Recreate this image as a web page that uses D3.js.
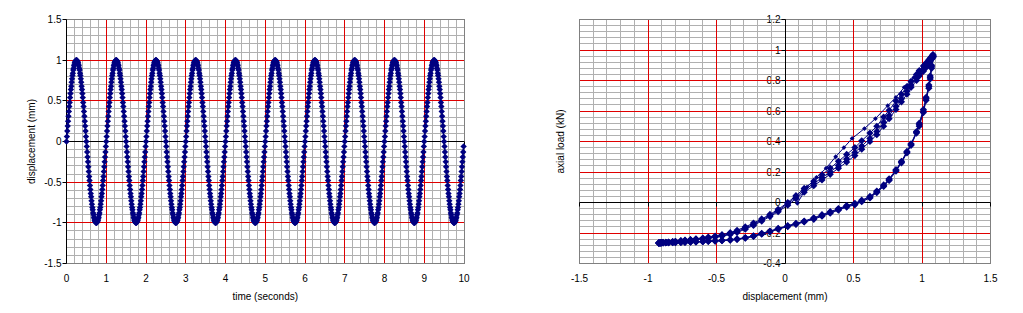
<!DOCTYPE html>
<html lang="en">
<head>
  <meta charset="UTF-8">
  <title>Displacement and load</title>
  <script src="https://d3js.org/d3.v7.min.js"></script>
  <style>
    body {
      margin: 0;
      background: #fff;
    }
    svg text {
      font-family: Arial, "Liberation Sans", sans-serif;
      font-size: 10px;
      fill: #000;
    }
  </style>
</head>
<body>
  <svg id="chart" width="1023" height="313"></svg>

  <script>
    // left chart: displacement (mm) against time (seconds), one reading every 0.01 s
    const time = [
      0, 0.01, 0.02, 0.03, 0.04, 0.05, 0.06, 0.07, 0.08, 0.09, 0.1, 0.11, 0.12, 0.13, 0.14, 0.15, 0.16, 0.17, 0.18, 0.19, 0.2, 0.21, 0.22, 0.23, 0.24, 0.25, 0.26, 0.27, 0.28, 0.29, 0.3, 0.31, 0.32, 0.33, 0.34, 0.35, 0.36, 0.37, 0.38, 0.39, 0.4, 0.41, 0.42, 0.43, 0.44, 0.45, 0.46, 0.47, 0.48, 0.49, 0.5, 0.51, 0.52, 0.53, 0.54, 0.55, 0.56, 0.57, 0.58, 0.59, 0.6, 0.61, 0.62, 0.63, 0.64, 0.65, 0.66, 0.67, 0.68, 0.69, 0.7, 0.71, 0.72, 0.73, 0.74, 0.75, 0.76, 0.77, 0.78, 0.79, 0.8, 0.81, 0.82, 0.83, 0.84, 0.85, 0.86, 0.87, 0.88, 0.89, 0.9, 0.91, 0.92, 0.93, 0.94, 0.95, 0.96, 0.97, 0.98, 0.99,
      1, 1.01, 1.02, 1.03, 1.04, 1.05, 1.06, 1.07, 1.08, 1.09, 1.1, 1.11, 1.12, 1.13, 1.14, 1.15, 1.16, 1.17, 1.18, 1.19, 1.2, 1.21, 1.22, 1.23, 1.24, 1.25, 1.26, 1.27, 1.28, 1.29, 1.3, 1.31, 1.32, 1.33, 1.34, 1.35, 1.36, 1.37, 1.38, 1.39, 1.4, 1.41, 1.42, 1.43, 1.44, 1.45, 1.46, 1.47, 1.48, 1.49, 1.5, 1.51, 1.52, 1.53, 1.54, 1.55, 1.56, 1.57, 1.58, 1.59, 1.6, 1.61, 1.62, 1.63, 1.64, 1.65, 1.66, 1.67, 1.68, 1.69, 1.7, 1.71, 1.72, 1.73, 1.74, 1.75, 1.76, 1.77, 1.78, 1.79, 1.8, 1.81, 1.82, 1.83, 1.84, 1.85, 1.86, 1.87, 1.88, 1.89, 1.9, 1.91, 1.92, 1.93, 1.94, 1.95, 1.96, 1.97, 1.98, 1.99,
      2, 2.01, 2.02, 2.03, 2.04, 2.05, 2.06, 2.07, 2.08, 2.09, 2.1, 2.11, 2.12, 2.13, 2.14, 2.15, 2.16, 2.17, 2.18, 2.19, 2.2, 2.21, 2.22, 2.23, 2.24, 2.25, 2.26, 2.27, 2.28, 2.29, 2.3, 2.31, 2.32, 2.33, 2.34, 2.35, 2.36, 2.37, 2.38, 2.39, 2.4, 2.41, 2.42, 2.43, 2.44, 2.45, 2.46, 2.47, 2.48, 2.49, 2.5, 2.51, 2.52, 2.53, 2.54, 2.55, 2.56, 2.57, 2.58, 2.59, 2.6, 2.61, 2.62, 2.63, 2.64, 2.65, 2.66, 2.67, 2.68, 2.69, 2.7, 2.71, 2.72, 2.73, 2.74, 2.75, 2.76, 2.77, 2.78, 2.79, 2.8, 2.81, 2.82, 2.83, 2.84, 2.85, 2.86, 2.87, 2.88, 2.89, 2.9, 2.91, 2.92, 2.93, 2.94, 2.95, 2.96, 2.97, 2.98, 2.99,
      3, 3.01, 3.02, 3.03, 3.04, 3.05, 3.06, 3.07, 3.08, 3.09, 3.1, 3.11, 3.12, 3.13, 3.14, 3.15, 3.16, 3.17, 3.18, 3.19, 3.2, 3.21, 3.22, 3.23, 3.24, 3.25, 3.26, 3.27, 3.28, 3.29, 3.3, 3.31, 3.32, 3.33, 3.34, 3.35, 3.36, 3.37, 3.38, 3.39, 3.4, 3.41, 3.42, 3.43, 3.44, 3.45, 3.46, 3.47, 3.48, 3.49, 3.5, 3.51, 3.52, 3.53, 3.54, 3.55, 3.56, 3.57, 3.58, 3.59, 3.6, 3.61, 3.62, 3.63, 3.64, 3.65, 3.66, 3.67, 3.68, 3.69, 3.7, 3.71, 3.72, 3.73, 3.74, 3.75, 3.76, 3.77, 3.78, 3.79, 3.8, 3.81, 3.82, 3.83, 3.84, 3.85, 3.86, 3.87, 3.88, 3.89, 3.9, 3.91, 3.92, 3.93, 3.94, 3.95, 3.96, 3.97, 3.98, 3.99,
      4, 4.01, 4.02, 4.03, 4.04, 4.05, 4.06, 4.07, 4.08, 4.09, 4.1, 4.11, 4.12, 4.13, 4.14, 4.15, 4.16, 4.17, 4.18, 4.19, 4.2, 4.21, 4.22, 4.23, 4.24, 4.25, 4.26, 4.27, 4.28, 4.29, 4.3, 4.31, 4.32, 4.33, 4.34, 4.35, 4.36, 4.37, 4.38, 4.39, 4.4, 4.41, 4.42, 4.43, 4.44, 4.45, 4.46, 4.47, 4.48, 4.49, 4.5, 4.51, 4.52, 4.53, 4.54, 4.55, 4.56, 4.57, 4.58, 4.59, 4.6, 4.61, 4.62, 4.63, 4.64, 4.65, 4.66, 4.67, 4.68, 4.69, 4.7, 4.71, 4.72, 4.73, 4.74, 4.75, 4.76, 4.77, 4.78, 4.79, 4.8, 4.81, 4.82, 4.83, 4.84, 4.85, 4.86, 4.87, 4.88, 4.89, 4.9, 4.91, 4.92, 4.93, 4.94, 4.95, 4.96, 4.97, 4.98, 4.99,
      5, 5.01, 5.02, 5.03, 5.04, 5.05, 5.06, 5.07, 5.08, 5.09, 5.1, 5.11, 5.12, 5.13, 5.14, 5.15, 5.16, 5.17, 5.18, 5.19, 5.2, 5.21, 5.22, 5.23, 5.24, 5.25, 5.26, 5.27, 5.28, 5.29, 5.3, 5.31, 5.32, 5.33, 5.34, 5.35, 5.36, 5.37, 5.38, 5.39, 5.4, 5.41, 5.42, 5.43, 5.44, 5.45, 5.46, 5.47, 5.48, 5.49, 5.5, 5.51, 5.52, 5.53, 5.54, 5.55, 5.56, 5.57, 5.58, 5.59, 5.6, 5.61, 5.62, 5.63, 5.64, 5.65, 5.66, 5.67, 5.68, 5.69, 5.7, 5.71, 5.72, 5.73, 5.74, 5.75, 5.76, 5.77, 5.78, 5.79, 5.8, 5.81, 5.82, 5.83, 5.84, 5.85, 5.86, 5.87, 5.88, 5.89, 5.9, 5.91, 5.92, 5.93, 5.94, 5.95, 5.96, 5.97, 5.98, 5.99,
      6, 6.01, 6.02, 6.03, 6.04, 6.05, 6.06, 6.07, 6.08, 6.09, 6.1, 6.11, 6.12, 6.13, 6.14, 6.15, 6.16, 6.17, 6.18, 6.19, 6.2, 6.21, 6.22, 6.23, 6.24, 6.25, 6.26, 6.27, 6.28, 6.29, 6.3, 6.31, 6.32, 6.33, 6.34, 6.35, 6.36, 6.37, 6.38, 6.39, 6.4, 6.41, 6.42, 6.43, 6.44, 6.45, 6.46, 6.47, 6.48, 6.49, 6.5, 6.51, 6.52, 6.53, 6.54, 6.55, 6.56, 6.57, 6.58, 6.59, 6.6, 6.61, 6.62, 6.63, 6.64, 6.65, 6.66, 6.67, 6.68, 6.69, 6.7, 6.71, 6.72, 6.73, 6.74, 6.75, 6.76, 6.77, 6.78, 6.79, 6.8, 6.81, 6.82, 6.83, 6.84, 6.85, 6.86, 6.87, 6.88, 6.89, 6.9, 6.91, 6.92, 6.93, 6.94, 6.95, 6.96, 6.97, 6.98, 6.99,
      7, 7.01, 7.02, 7.03, 7.04, 7.05, 7.06, 7.07, 7.08, 7.09, 7.1, 7.11, 7.12, 7.13, 7.14, 7.15, 7.16, 7.17, 7.18, 7.19, 7.2, 7.21, 7.22, 7.23, 7.24, 7.25, 7.26, 7.27, 7.28, 7.29, 7.3, 7.31, 7.32, 7.33, 7.34, 7.35, 7.36, 7.37, 7.38, 7.39, 7.4, 7.41, 7.42, 7.43, 7.44, 7.45, 7.46, 7.47, 7.48, 7.49, 7.5, 7.51, 7.52, 7.53, 7.54, 7.55, 7.56, 7.57, 7.58, 7.59, 7.6, 7.61, 7.62, 7.63, 7.64, 7.65, 7.66, 7.67, 7.68, 7.69, 7.7, 7.71, 7.72, 7.73, 7.74, 7.75, 7.76, 7.77, 7.78, 7.79, 7.8, 7.81, 7.82, 7.83, 7.84, 7.85, 7.86, 7.87, 7.88, 7.89, 7.9, 7.91, 7.92, 7.93, 7.94, 7.95, 7.96, 7.97, 7.98, 7.99,
      8, 8.01, 8.02, 8.03, 8.04, 8.05, 8.06, 8.07, 8.08, 8.09, 8.1, 8.11, 8.12, 8.13, 8.14, 8.15, 8.16, 8.17, 8.18, 8.19, 8.2, 8.21, 8.22, 8.23, 8.24, 8.25, 8.26, 8.27, 8.28, 8.29, 8.3, 8.31, 8.32, 8.33, 8.34, 8.35, 8.36, 8.37, 8.38, 8.39, 8.4, 8.41, 8.42, 8.43, 8.44, 8.45, 8.46, 8.47, 8.48, 8.49, 8.5, 8.51, 8.52, 8.53, 8.54, 8.55, 8.56, 8.57, 8.58, 8.59, 8.6, 8.61, 8.62, 8.63, 8.64, 8.65, 8.66, 8.67, 8.68, 8.69, 8.7, 8.71, 8.72, 8.73, 8.74, 8.75, 8.76, 8.77, 8.78, 8.79, 8.8, 8.81, 8.82, 8.83, 8.84, 8.85, 8.86, 8.87, 8.88, 8.89, 8.9, 8.91, 8.92, 8.93, 8.94, 8.95, 8.96, 8.97, 8.98, 8.99,
      9, 9.01, 9.02, 9.03, 9.04, 9.05, 9.06, 9.07, 9.08, 9.09, 9.1, 9.11, 9.12, 9.13, 9.14, 9.15, 9.16, 9.17, 9.18, 9.19, 9.2, 9.21, 9.22, 9.23, 9.24, 9.25, 9.26, 9.27, 9.28, 9.29, 9.3, 9.31, 9.32, 9.33, 9.34, 9.35, 9.36, 9.37, 9.38, 9.39, 9.4, 9.41, 9.42, 9.43, 9.44, 9.45, 9.46, 9.47, 9.48, 9.49, 9.5, 9.51, 9.52, 9.53, 9.54, 9.55, 9.56, 9.57, 9.58, 9.59, 9.6, 9.61, 9.62, 9.63, 9.64, 9.65, 9.66, 9.67, 9.68, 9.69, 9.7, 9.71, 9.72, 9.73, 9.74, 9.75, 9.76, 9.77, 9.78, 9.79, 9.8, 9.81, 9.82, 9.83, 9.84, 9.85, 9.86, 9.87, 9.88, 9.89, 9.9, 9.91, 9.92, 9.93, 9.94, 9.95, 9.96, 9.97, 9.98, 9.99
    ];
    const displacement = [
      0, 0.06, 0.13, 0.19, 0.25, 0.31, 0.37, 0.43, 0.48, 0.54, 0.59, 0.64, 0.68, 0.73, 0.77, 0.81, 0.84, 0.88, 0.9, 0.93, 0.95, 0.97, 0.98, 0.99, 1, 1, 1, 0.99, 0.98, 0.97, 0.95, 0.93, 0.9, 0.88, 0.84, 0.81, 0.77, 0.73, 0.68, 0.64, 0.59, 0.54, 0.48, 0.43, 0.37, 0.31, 0.25, 0.19, 0.13, 0.06, 0, -0.06, -0.13, -0.19, -0.25, -0.31, -0.37, -0.43, -0.48, -0.54, -0.59, -0.64, -0.68, -0.73, -0.77, -0.81, -0.84, -0.88, -0.9, -0.93, -0.95, -0.97, -0.98, -0.99, -1, -1, -1, -0.99, -0.98, -0.97, -0.95, -0.93, -0.9, -0.88, -0.84, -0.81, -0.77, -0.73, -0.68, -0.64, -0.59, -0.54, -0.48, -0.43, -0.37, -0.31, -0.25, -0.19, -0.13, -0.06,
      0, 0.06, 0.13, 0.19, 0.25, 0.31, 0.37, 0.43, 0.48, 0.54, 0.59, 0.64, 0.68, 0.73, 0.77, 0.81, 0.84, 0.88, 0.9, 0.93, 0.95, 0.97, 0.98, 0.99, 1, 1, 1, 0.99, 0.98, 0.97, 0.95, 0.93, 0.9, 0.88, 0.84, 0.81, 0.77, 0.73, 0.68, 0.64, 0.59, 0.54, 0.48, 0.43, 0.37, 0.31, 0.25, 0.19, 0.13, 0.06, 0, -0.06, -0.13, -0.19, -0.25, -0.31, -0.37, -0.43, -0.48, -0.54, -0.59, -0.64, -0.68, -0.73, -0.77, -0.81, -0.84, -0.88, -0.9, -0.93, -0.95, -0.97, -0.98, -0.99, -1, -1, -1, -0.99, -0.98, -0.97, -0.95, -0.93, -0.9, -0.88, -0.84, -0.81, -0.77, -0.73, -0.68, -0.64, -0.59, -0.54, -0.48, -0.43, -0.37, -0.31, -0.25, -0.19, -0.13, -0.06,
      0, 0.06, 0.13, 0.19, 0.25, 0.31, 0.37, 0.43, 0.48, 0.54, 0.59, 0.64, 0.68, 0.73, 0.77, 0.81, 0.84, 0.88, 0.9, 0.93, 0.95, 0.97, 0.98, 0.99, 1, 1, 1, 0.99, 0.98, 0.97, 0.95, 0.93, 0.9, 0.88, 0.84, 0.81, 0.77, 0.73, 0.68, 0.64, 0.59, 0.54, 0.48, 0.43, 0.37, 0.31, 0.25, 0.19, 0.13, 0.06, 0, -0.06, -0.13, -0.19, -0.25, -0.31, -0.37, -0.43, -0.48, -0.54, -0.59, -0.64, -0.68, -0.73, -0.77, -0.81, -0.84, -0.88, -0.9, -0.93, -0.95, -0.97, -0.98, -0.99, -1, -1, -1, -0.99, -0.98, -0.97, -0.95, -0.93, -0.9, -0.88, -0.84, -0.81, -0.77, -0.73, -0.68, -0.64, -0.59, -0.54, -0.48, -0.43, -0.37, -0.31, -0.25, -0.19, -0.13, -0.06,
      0, 0.06, 0.13, 0.19, 0.25, 0.31, 0.37, 0.43, 0.48, 0.54, 0.59, 0.64, 0.68, 0.73, 0.77, 0.81, 0.84, 0.88, 0.9, 0.93, 0.95, 0.97, 0.98, 0.99, 1, 1, 1, 0.99, 0.98, 0.97, 0.95, 0.93, 0.9, 0.88, 0.84, 0.81, 0.77, 0.73, 0.68, 0.64, 0.59, 0.54, 0.48, 0.43, 0.37, 0.31, 0.25, 0.19, 0.13, 0.06, 0, -0.06, -0.13, -0.19, -0.25, -0.31, -0.37, -0.43, -0.48, -0.54, -0.59, -0.64, -0.68, -0.73, -0.77, -0.81, -0.84, -0.88, -0.9, -0.93, -0.95, -0.97, -0.98, -0.99, -1, -1, -1, -0.99, -0.98, -0.97, -0.95, -0.93, -0.9, -0.88, -0.84, -0.81, -0.77, -0.73, -0.68, -0.64, -0.59, -0.54, -0.48, -0.43, -0.37, -0.31, -0.25, -0.19, -0.13, -0.06,
      0, 0.06, 0.13, 0.19, 0.25, 0.31, 0.37, 0.43, 0.48, 0.54, 0.59, 0.64, 0.68, 0.73, 0.77, 0.81, 0.84, 0.88, 0.9, 0.93, 0.95, 0.97, 0.98, 0.99, 1, 1, 1, 0.99, 0.98, 0.97, 0.95, 0.93, 0.9, 0.88, 0.84, 0.81, 0.77, 0.73, 0.68, 0.64, 0.59, 0.54, 0.48, 0.43, 0.37, 0.31, 0.25, 0.19, 0.13, 0.06, 0, -0.06, -0.13, -0.19, -0.25, -0.31, -0.37, -0.43, -0.48, -0.54, -0.59, -0.64, -0.68, -0.73, -0.77, -0.81, -0.84, -0.88, -0.9, -0.93, -0.95, -0.97, -0.98, -0.99, -1, -1, -1, -0.99, -0.98, -0.97, -0.95, -0.93, -0.9, -0.88, -0.84, -0.81, -0.77, -0.73, -0.68, -0.64, -0.59, -0.54, -0.48, -0.43, -0.37, -0.31, -0.25, -0.19, -0.13, -0.06,
      0, 0.06, 0.13, 0.19, 0.25, 0.31, 0.37, 0.43, 0.48, 0.54, 0.59, 0.64, 0.68, 0.73, 0.77, 0.81, 0.84, 0.88, 0.9, 0.93, 0.95, 0.97, 0.98, 0.99, 1, 1, 1, 0.99, 0.98, 0.97, 0.95, 0.93, 0.9, 0.88, 0.84, 0.81, 0.77, 0.73, 0.68, 0.64, 0.59, 0.54, 0.48, 0.43, 0.37, 0.31, 0.25, 0.19, 0.13, 0.06, 0, -0.06, -0.13, -0.19, -0.25, -0.31, -0.37, -0.43, -0.48, -0.54, -0.59, -0.64, -0.68, -0.73, -0.77, -0.81, -0.84, -0.88, -0.9, -0.93, -0.95, -0.97, -0.98, -0.99, -1, -1, -1, -0.99, -0.98, -0.97, -0.95, -0.93, -0.9, -0.88, -0.84, -0.81, -0.77, -0.73, -0.68, -0.64, -0.59, -0.54, -0.48, -0.43, -0.37, -0.31, -0.25, -0.19, -0.13, -0.06,
      0, 0.06, 0.13, 0.19, 0.25, 0.31, 0.37, 0.43, 0.48, 0.54, 0.59, 0.64, 0.68, 0.73, 0.77, 0.81, 0.84, 0.88, 0.9, 0.93, 0.95, 0.97, 0.98, 0.99, 1, 1, 1, 0.99, 0.98, 0.97, 0.95, 0.93, 0.9, 0.88, 0.84, 0.81, 0.77, 0.73, 0.68, 0.64, 0.59, 0.54, 0.48, 0.43, 0.37, 0.31, 0.25, 0.19, 0.13, 0.06, 0, -0.06, -0.13, -0.19, -0.25, -0.31, -0.37, -0.43, -0.48, -0.54, -0.59, -0.64, -0.68, -0.73, -0.77, -0.81, -0.84, -0.88, -0.9, -0.93, -0.95, -0.97, -0.98, -0.99, -1, -1, -1, -0.99, -0.98, -0.97, -0.95, -0.93, -0.9, -0.88, -0.84, -0.81, -0.77, -0.73, -0.68, -0.64, -0.59, -0.54, -0.48, -0.43, -0.37, -0.31, -0.25, -0.19, -0.13, -0.06,
      0, 0.06, 0.13, 0.19, 0.25, 0.31, 0.37, 0.43, 0.48, 0.54, 0.59, 0.64, 0.68, 0.73, 0.77, 0.81, 0.84, 0.88, 0.9, 0.93, 0.95, 0.97, 0.98, 0.99, 1, 1, 1, 0.99, 0.98, 0.97, 0.95, 0.93, 0.9, 0.88, 0.84, 0.81, 0.77, 0.73, 0.68, 0.64, 0.59, 0.54, 0.48, 0.43, 0.37, 0.31, 0.25, 0.19, 0.13, 0.06, 0, -0.06, -0.13, -0.19, -0.25, -0.31, -0.37, -0.43, -0.48, -0.54, -0.59, -0.64, -0.68, -0.73, -0.77, -0.81, -0.84, -0.88, -0.9, -0.93, -0.95, -0.97, -0.98, -0.99, -1, -1, -1, -0.99, -0.98, -0.97, -0.95, -0.93, -0.9, -0.88, -0.84, -0.81, -0.77, -0.73, -0.68, -0.64, -0.59, -0.54, -0.48, -0.43, -0.37, -0.31, -0.25, -0.19, -0.13, -0.06,
      0, 0.06, 0.13, 0.19, 0.25, 0.31, 0.37, 0.43, 0.48, 0.54, 0.59, 0.64, 0.68, 0.73, 0.77, 0.81, 0.84, 0.88, 0.9, 0.93, 0.95, 0.97, 0.98, 0.99, 1, 1, 1, 0.99, 0.98, 0.97, 0.95, 0.93, 0.9, 0.88, 0.84, 0.81, 0.77, 0.73, 0.68, 0.64, 0.59, 0.54, 0.48, 0.43, 0.37, 0.31, 0.25, 0.19, 0.13, 0.06, 0, -0.06, -0.13, -0.19, -0.25, -0.31, -0.37, -0.43, -0.48, -0.54, -0.59, -0.64, -0.68, -0.73, -0.77, -0.81, -0.84, -0.88, -0.9, -0.93, -0.95, -0.97, -0.98, -0.99, -1, -1, -1, -0.99, -0.98, -0.97, -0.95, -0.93, -0.9, -0.88, -0.84, -0.81, -0.77, -0.73, -0.68, -0.64, -0.59, -0.54, -0.48, -0.43, -0.37, -0.31, -0.25, -0.19, -0.13, -0.06,
      0, 0.06, 0.13, 0.19, 0.25, 0.31, 0.37, 0.43, 0.48, 0.54, 0.59, 0.64, 0.68, 0.73, 0.77, 0.81, 0.84, 0.88, 0.9, 0.93, 0.95, 0.97, 0.98, 0.99, 1, 1, 1, 0.99, 0.98, 0.97, 0.95, 0.93, 0.9, 0.88, 0.84, 0.81, 0.77, 0.73, 0.68, 0.64, 0.59, 0.54, 0.48, 0.43, 0.37, 0.31, 0.25, 0.19, 0.13, 0.06, 0, -0.06, -0.13, -0.19, -0.25, -0.31, -0.37, -0.43, -0.48, -0.54, -0.59, -0.64, -0.68, -0.73, -0.77, -0.81, -0.84, -0.88, -0.9, -0.93, -0.95, -0.97, -0.98, -0.99, -1, -1, -1, -0.99, -0.98, -0.97, -0.95, -0.93, -0.9, -0.88, -0.84, -0.81, -0.77, -0.73, -0.68, -0.64, -0.59, -0.54, -0.48, -0.43, -0.37, -0.31, -0.25, -0.19, -0.13, -0.06
    ];
    const timeTicks = [0, 1, 2, 3, 4, 5, 6, 7, 8, 9, 10];
    const dispTicks = [-1.5, -1, -0.5, 0, 0.5, 1, 1.5];

    // right chart: axial load (kN) against displacement (mm)
    // first loading, drawn with small markers
    const firstDisp = [0.09, 0.16, 0.23, 0.3, 0.37, 0.43, 0.49, 0.58, 0.66, 0.75, 0.81, 0.87, 0.94, 1.01, 1.05, 1.08];
    const firstLoad = [-0.005, 0.1, 0.165, 0.225, 0.3, 0.36, 0.42, 0.485, 0.55, 0.635, 0.69, 0.755, 0.82, 0.9, 0.945, 0.975];
    // repeated loops: unloading then reloading, three times
    const loopDisp = [
      1.08, 1.07, 1.06, 1.05, 1.03, 1.01, 0.98, 0.96, 0.92, 0.89, 0.85, 0.81, 0.76, 0.72, 0.67, 0.62, 0.56, 0.51, 0.45, 0.39, 0.33, 0.27, 0.21, 0.14, 0.08, 0.02, -0.05, -0.11, -0.17, -0.23, -0.29, -0.35, -0.4, -0.46, -0.51, -0.56, -0.6, -0.65, -0.69, -0.73, -0.76, -0.8, -0.82, -0.85, -0.87, -0.89, -0.9, -0.91, -0.92, -0.92,
      -0.92, -0.91, -0.9, -0.89, -0.87, -0.85, -0.82, -0.8, -0.76, -0.73, -0.69, -0.65, -0.6, -0.56, -0.51, -0.46, -0.4, -0.35, -0.29, -0.23, -0.17, -0.11, -0.05, 0.02, 0.08, 0.14, 0.21, 0.27, 0.33, 0.39, 0.45, 0.51, 0.56, 0.62, 0.67, 0.72, 0.76, 0.81, 0.85, 0.89, 0.92, 0.96, 0.98, 1.01, 1.03, 1.05, 1.06, 1.07, 1.08, 1.08,
      1.08, 1.07, 1.06, 1.05, 1.03, 1.01, 0.98, 0.96, 0.92, 0.89, 0.85, 0.81, 0.76, 0.72, 0.67, 0.62, 0.56, 0.51, 0.45, 0.39, 0.33, 0.27, 0.21, 0.14, 0.08, 0.02, -0.05, -0.11, -0.17, -0.23, -0.29, -0.35, -0.4, -0.46, -0.51, -0.56, -0.6, -0.65, -0.69, -0.73, -0.76, -0.8, -0.82, -0.85, -0.87, -0.89, -0.9, -0.91, -0.92, -0.92,
      -0.92, -0.91, -0.9, -0.89, -0.87, -0.85, -0.82, -0.8, -0.76, -0.73, -0.69, -0.65, -0.6, -0.56, -0.51, -0.46, -0.4, -0.35, -0.29, -0.23, -0.17, -0.11, -0.05, 0.02, 0.08, 0.14, 0.21, 0.27, 0.33, 0.39, 0.45, 0.51, 0.56, 0.62, 0.67, 0.72, 0.76, 0.81, 0.85, 0.89, 0.92, 0.96, 0.98, 1.01, 1.03, 1.05, 1.06, 1.07, 1.08, 1.08,
      1.08, 1.07, 1.06, 1.05, 1.03, 1.01, 0.98, 0.96, 0.92, 0.89, 0.85, 0.81, 0.76, 0.72, 0.67, 0.62, 0.56, 0.51, 0.45, 0.39, 0.33, 0.27, 0.21, 0.14, 0.08, 0.02, -0.05, -0.11, -0.17, -0.23, -0.29, -0.35, -0.4, -0.46, -0.51, -0.56, -0.6, -0.65, -0.69, -0.73, -0.76, -0.8, -0.82, -0.85, -0.87, -0.89, -0.9, -0.91, -0.92, -0.92,
      -0.92, -0.91, -0.9, -0.89, -0.87, -0.85, -0.82, -0.8, -0.76, -0.73, -0.69, -0.65, -0.6, -0.56, -0.51, -0.46, -0.4, -0.35, -0.29, -0.23, -0.17, -0.11, -0.05, 0.02, 0.08, 0.14, 0.21, 0.27, 0.33, 0.39, 0.45, 0.51, 0.56, 0.62, 0.67, 0.72, 0.76, 0.81, 0.85, 0.89, 0.92, 0.96, 0.98, 1.01, 1.03, 1.05, 1.06, 1.07, 1.08, 1.08
    ];
    const loopLoad = [
      0.96, 0.89, 0.82, 0.76, 0.68, 0.6, 0.51, 0.46, 0.38, 0.33, 0.265, 0.21, 0.15, 0.11, 0.07, 0.035, 0.01, -0.01, -0.025, -0.045, -0.065, -0.085, -0.105, -0.125, -0.14, -0.155, -0.172, -0.19, -0.205, -0.22, -0.232, -0.24, -0.245, -0.249, -0.252, -0.254, -0.256, -0.258, -0.259, -0.26, -0.261, -0.262, -0.262, -0.263, -0.263, -0.264, -0.264, -0.265, -0.265, -0.266,
      -0.265, -0.264, -0.263, -0.262, -0.261, -0.259, -0.256, -0.254, -0.25, -0.247, -0.243, -0.238, -0.233, -0.227, -0.22, -0.211, -0.198, -0.182, -0.16, -0.135, -0.108, -0.078, -0.045, 0, 0.045, 0.092, 0.14, 0.182, 0.225, 0.27, 0.315, 0.36, 0.405, 0.455, 0.5, 0.56, 0.605, 0.665, 0.71, 0.76, 0.795, 0.84, 0.865, 0.895, 0.915, 0.935, 0.945, 0.958, 0.965, 0.97,
      0.96, 0.88, 0.81, 0.75, 0.67, 0.59, 0.5, 0.455, 0.375, 0.325, 0.26, 0.205, 0.145, 0.105, 0.065, 0.03, 0.005, -0.015, -0.03, -0.05, -0.07, -0.09, -0.11, -0.128, -0.143, -0.158, -0.175, -0.193, -0.208, -0.223, -0.234, -0.242, -0.247, -0.25, -0.253, -0.255, -0.257, -0.259, -0.26, -0.261, -0.262, -0.263, -0.263, -0.264, -0.264, -0.265, -0.265, -0.266, -0.266, -0.266,
      -0.265, -0.264, -0.264, -0.263, -0.262, -0.261, -0.258, -0.256, -0.252, -0.249, -0.245, -0.241, -0.236, -0.231, -0.225, -0.217, -0.205, -0.19, -0.168, -0.143, -0.115, -0.085, -0.052, -0.008, 0.035, 0.08, 0.125, 0.162, 0.2, 0.242, 0.285, 0.328, 0.37, 0.42, 0.465, 0.525, 0.57, 0.63, 0.68, 0.73, 0.77, 0.815, 0.84, 0.87, 0.895, 0.915, 0.93, 0.945, 0.955, 0.96,
      0.955, 0.9, 0.83, 0.77, 0.69, 0.61, 0.52, 0.465, 0.385, 0.335, 0.27, 0.215, 0.155, 0.115, 0.075, 0.04, 0.015, -0.005, -0.02, -0.04, -0.06, -0.08, -0.1, -0.122, -0.137, -0.152, -0.17, -0.187, -0.202, -0.218, -0.23, -0.239, -0.244, -0.248, -0.251, -0.253, -0.255, -0.257, -0.258, -0.259, -0.26, -0.261, -0.262, -0.263, -0.263, -0.264, -0.264, -0.265, -0.265, -0.265,
      -0.266, -0.265, -0.265, -0.264, -0.263, -0.262, -0.26, -0.258, -0.254, -0.251, -0.247, -0.243, -0.238, -0.234, -0.228, -0.221, -0.21, -0.196, -0.175, -0.15, -0.122, -0.092, -0.06, -0.018, 0.025, 0.068, 0.11, 0.148, 0.185, 0.225, 0.265, 0.308, 0.35, 0.4, 0.445, 0.5, 0.55, 0.61, 0.66, 0.71, 0.755, 0.8, 0.83, 0.86, 0.885, 0.905, 0.925, 0.94, 0.95, 0.955
    ];
    const loopDispTicks = [-1.5, -1, -0.5, 0, 0.5, 1, 1.5];
    const loadTicks = [-0.4, -0.2, 0, 0.2, 0.4, 0.6, 0.8, 1, 1.2];

    const svg = d3.select("#chart");
    const navy = "#000080";
    const snap = v => Math.round(v - 0.5) + 0.5;

    function diamond(r) {
      return `M0,${-r}L${r},0L0,${r}L${-r},0Z`;
    }

    function panel(cfg) {
      const { x, y, xTicks, yTicks, xMinor, yMinor } = cfg;
      const [left, right] = x.range();
      const [bottom, top] = y.range();
      const g = svg.append("g");

      // y labels sit beside the vertical axis, x labels along the bottom
      const yAxisX = snap(x(0));
      g.append("g").selectAll("text")
        .data(yTicks)
        .join("text")
        .attr("x", yAxisX - 5)
        .attr("y", d => y(d))
        .attr("dy", "0.35em")
        .attr("text-anchor", "end")
        .text(d => String(d));

      g.append("g").selectAll("text")
        .data(xTicks)
        .join("text")
        .attr("x", d => x(d))
        .attr("y", bottom + 15)
        .attr("dy", "0.35em")
        .attr("text-anchor", "middle")
        .text(d => String(d));

      // minor grid
      const minor = g.append("g").attr("stroke", "#b0b0b0").attr("stroke-width", 1);
      minor.selectAll(".vx").data(xMinor).join("line")
        .attr("x1", d => snap(x(d))).attr("x2", d => snap(x(d)))
        .attr("y1", top).attr("y2", bottom);
      minor.selectAll(".hy").data(yMinor).join("line")
        .attr("y1", d => snap(y(d))).attr("y2", d => snap(y(d)))
        .attr("x1", left).attr("x2", right);

      // major grid
      const major = g.append("g").attr("stroke", "#e00000").attr("stroke-width", 1);
      major.selectAll(".vx").data(xTicks).join("line")
        .attr("x1", d => snap(x(d))).attr("x2", d => snap(x(d)))
        .attr("y1", top).attr("y2", bottom);
      major.selectAll(".hy").data(yTicks).join("line")
        .attr("y1", d => snap(y(d))).attr("y2", d => snap(y(d)))
        .attr("x1", left).attr("x2", right);

      g.append("rect")
        .attr("x", snap(left)).attr("y", snap(top))
        .attr("width", snap(right) - snap(left))
        .attr("height", snap(bottom) - snap(top))
        .attr("fill", "none")
        .attr("stroke", "#808080");

      // axes crossing at zero
      const zeroY = snap(y(0));
      g.append("line")
        .attr("x1", left).attr("x2", right)
        .attr("y1", zeroY).attr("y2", zeroY)
        .attr("stroke", "#000");
      g.append("line")
        .attr("x1", yAxisX).attr("x2", yAxisX)
        .attr("y1", top).attr("y2", bottom)
        .attr("stroke", "#000");
      g.append("g").attr("stroke", "#000").selectAll("line")
        .data(yTicks).join("line")
        .attr("x1", yAxisX - 4).attr("x2", yAxisX)
        .attr("y1", d => snap(y(d))).attr("y2", d => snap(y(d)));
      g.append("g").attr("stroke", "#000").selectAll("line")
        .data(xTicks).join("line")
        .attr("x1", d => snap(x(d))).attr("x2", d => snap(x(d)))
        .attr("y1", zeroY).attr("y2", zeroY + 4);

      // series
      cfg.series.forEach(s => {
        const pts = s.xs.map((v, i) => [v, s.ys[i]]);
        g.append("path")
          .datum(pts)
          .attr("fill", "none")
          .attr("stroke", navy)
          .attr("stroke-width", 1)
          .attr("d", d3.line().x(d => x(d[0])).y(d => y(d[1])));
        g.append("g").selectAll("path")
          .data(pts)
          .join("path")
          .attr("transform", d => `translate(${x(d[0])},${y(d[1])})`)
          .attr("d", diamond(s.marker))
          .attr("fill", navy);
      });

      // axis titles
      g.append("text")
        .attr("x", (left + right) / 2)
        .attr("y", bottom + 33)
        .attr("dy", "0.35em")
        .attr("text-anchor", "middle")
        .text(cfg.xTitle);
      g.append("text")
        .attr("transform", `translate(${cfg.yTitleX},${(top + bottom) / 2}) rotate(-90)`)
        .attr("dy", "0.35em")
        .attr("text-anchor", "middle")
        .text(cfg.yTitle);
    }

    const xLeft = d3.scaleLinear().domain([0, 10]).range([66.5, 464]);
    const yLeft = d3.scaleLinear().domain([-1.5, 1.5]).range([263.5, 19.5]);
    panel({
      x: xLeft, y: yLeft,
      xTicks: timeTicks, yTicks: dispTicks,
      xMinor: d3.range(51).map(i => i * 0.2),
      yMinor: d3.range(31).map(i => -1.5 + i * 0.1),
      series: [{ xs: time, ys: displacement, marker: 3.2 }],
      xTitle: "time (seconds)",
      yTitle: "displacement (mm)",
      yTitleX: 31
    });

    const xRight = d3.scaleLinear().domain([-1.5, 1.5]).range([579.5, 990.5]);
    const yRight = d3.scaleLinear().domain([-0.4, 1.2]).range([263.5, 19.5]);
    panel({
      x: xRight, y: yRight,
      xTicks: loopDispTicks, yTicks: loadTicks,
      xMinor: d3.range(31).map(i => -1.5 + i * 0.1),
      yMinor: d3.range(41).map(i => -0.4 + i * 0.04),
      series: [
        { xs: firstDisp, ys: firstLoad, marker: 2.4 },
        { xs: loopDisp, ys: loopLoad, marker: 3.6 }
      ],
      xTitle: "displacement (mm)",
      yTitle: "axial load (kN)",
      yTitleX: 560
    });
  </script>
</body>
</html>
